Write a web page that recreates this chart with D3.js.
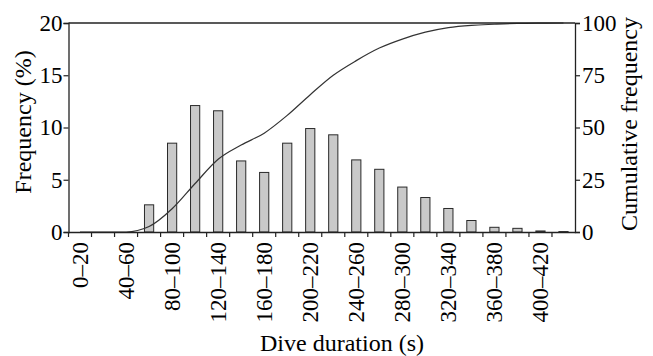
<!DOCTYPE html>
<html>
<head>
<meta charset="utf-8">
<script src="https://cdn.jsdelivr.net/npm/d3@7"></script>
<style>
  body { margin: 0; background: #fff; }
  text { font-family: "Liberation Serif", "Times New Roman", serif; fill: #000; }
</style>
</head>
<body>
<svg id="chart" width="653" height="356"></svg>
<script>
// dive duration classes (s)
var classes = ["0–20","20–40","40–60","60–80","80–100","100–120","120–140","140–160",
  "160–180","180–200","200–220","220–240","240–260","260–280","280–300","300–320",
  "320–340","340–360","360–380","380–400","400–420","420–440"];
// frequency (%)
var freq = [0,0,0,2.6,8.5,12.1,11.6,6.8,5.7,8.5,9.9,9.3,6.9,6.0,4.3,3.3,2.25,1.1,0.45,0.35,0.1,0.04];
// cumulative frequency
var cumul = [0,0,0,2.6,11.1,23.2,34.8,41.6,47.3,55.8,65.7,75.0,82.0,88.0,92.3,95.6,97.8,98.9,99.4,99.8,99.95,100];
var freqTicks = [0,5,10,15,20];
var cumTicks = [0,25,50,75,100];

var svg = d3.select("#chart");
var L = 68.5, R = 575, T = 23, B = 232;

var x = d3.scaleBand().domain(classes).range([L, R]).padding(0);
var y = d3.scaleLinear().domain([0,20]).range([B, T]);
var y2 = d3.scaleLinear().domain([0,100]).range([B, T]);

var barW = x.bandwidth() * 0.4;

// bars
svg.selectAll("rect.bar")
  .data(freq)
  .enter().append("rect")
  .attr("class","bar")
  .attr("x", function(d,i){ return x(classes[i]) + x.bandwidth()/2 - barW/2; })
  .attr("y", function(d){ return y(d); })
  .attr("width", barW)
  .attr("height", function(d){ return B - y(d); })
  .attr("fill", "#c9c9c9")
  .attr("stroke", "#2a2a2a")
  .attr("stroke-width", 1);

// cumulative curve
var line = d3.line()
  .x(function(d,i){ return x(classes[i]) + x.bandwidth()/2; })
  .y(function(d){ return y2(d); })
  .curve(d3.curveMonotoneX);
svg.append("path")
  .datum(cumul)
  .attr("d", line)
  .attr("fill","none")
  .attr("stroke","#333")
  .attr("stroke-width",1.2);

// frame
svg.append("line").attr("x1",L).attr("x2",R).attr("y1",T).attr("y2",T).attr("stroke","#222").attr("stroke-width",1.3);

// left axis
var gl = svg.append("g").attr("transform","translate(" + L + ",0)")
  .call(d3.axisLeft(y).tickValues(freqTicks).tickSize(5).tickPadding(1));
// right axis
var gr = svg.append("g").attr("transform","translate(" + R + ",0)")
  .call(d3.axisRight(y2).tickValues(cumTicks).tickSize(5).tickPadding(2));
// bottom axis: ticks at class boundaries
var gb = svg.append("g").attr("transform","translate(0," + B + ")")
  .call(d3.axisBottom(x).tickSize(0).tickFormat(function(d,i){ return i % 2 === 0 ? d : ""; }));
gb.selectAll(".tick line").remove();
gb.selectAll("line.bt")
  .data(classes)
  .enter().append("line")
  .attr("x1", function(d){ return x(d); })
  .attr("x2", function(d){ return x(d); })
  .attr("y1", 0).attr("y2", 5)
  .attr("stroke","#222").attr("stroke-width",1.2);

[gl, gr, gb].forEach(function(g){
  g.selectAll(".domain").attr("stroke","#222").attr("stroke-width",1.3);
  g.selectAll(".tick line").attr("stroke","#222").attr("stroke-width",1.2);
  g.selectAll("text").attr("font-family","Liberation Serif").attr("font-size",23).attr("fill","#000");
});

gb.selectAll(".tick text")
  .attr("transform","rotate(-90)")
  .attr("text-anchor","end")
  .attr("x",-10).attr("y",0).attr("dy","0.33em");

// axis titles
svg.append("text").attr("x",342).attr("y",351).attr("text-anchor","middle")
  .attr("font-size",24).text("Dive duration (s)");
svg.append("text").attr("transform","translate(31,122) rotate(-90)").attr("text-anchor","middle")
  .attr("font-size",24).text("Frequency (%)");
svg.append("text").attr("transform","translate(637,124) rotate(-90)").attr("text-anchor","middle")
  .attr("font-size",24).text("Cumulative frequency");
</script>
</body>
</html>
